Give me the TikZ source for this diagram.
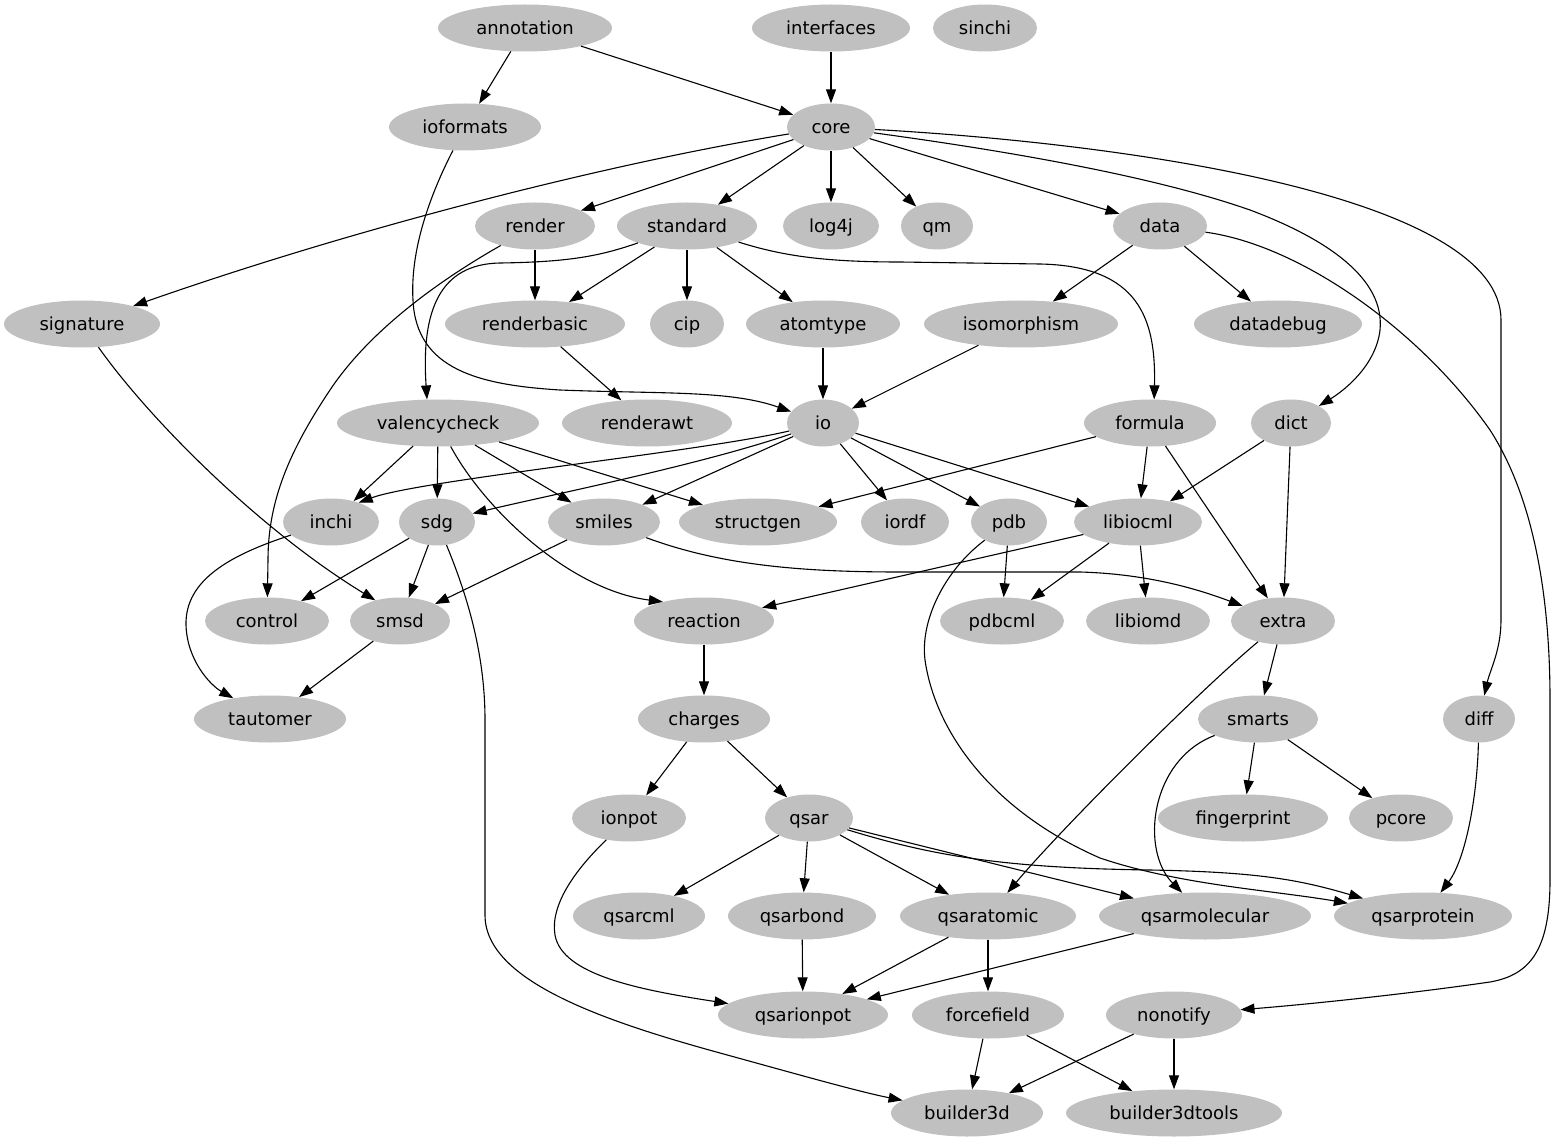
\documentclass[tikz,border=0pt]{standalone}
\usepackage{fontspec}
\setmainfont{DejaVu Sans}
\usetikzlibrary{shapes.geometric,arrows.meta}
\definecolor{gvgray}{HTML}{C0C0C0}
\begin{document}
\begin{tikzpicture}[x=1pt,y=-1pt,
  nd/.style={ellipse, fill=gvgray, inner sep=0pt, minimum height=47pt,
    text height=15pt, text depth=2pt,
    font=\fontsize{18}{20}\selectfont, text=black},
  arr/.style={-{Triangle[length=14pt,width=10pt]}, line width=1.1pt, black}]
\fill[white] (0,0) rectangle (1561,1147);
\useasboundingbox (0,0) rectangle (1561,1147);
% row 1
\node[nd, minimum width=174pt] (annotation) at (525,28) {annotation};
\node[nd, minimum width=158pt] (interfaces) at (831,28) {interfaces};
\node[nd, minimum width=104pt] (sinchi) at (985,28) {sinchi};
% row 2
\node[nd, minimum width=152pt] (ioformats) at (465,127) {ioformats};
\node[nd, minimum width=88pt] (core) at (831,127) {core};
% row 3
\node[nd, minimum width=120pt] (render) at (535,226) {render};
\node[nd, minimum width=140pt] (standard) at (687,226) {standard};
\node[nd, minimum width=96pt] (log4j) at (831,226) {log4j};
\node[nd, minimum width=72pt] (qm) at (937,226) {qm};
\node[nd, minimum width=94pt] (data) at (1160,226) {data};
% row 4
\node[nd, minimum width=156pt] (signature) at (82,324) {signature};
\node[nd, minimum width=180pt] (renderbasic) at (535,324) {renderbasic};
\node[nd, minimum width=74pt] (cip) at (687,324) {cip};
\node[nd, minimum width=154pt] (atomtype) at (823,324) {atomtype};
\node[nd, minimum width=194pt] (isomorphism) at (1021,324) {isomorphism};
\node[nd, minimum width=168pt] (datadebug) at (1278,324) {datadebug};
% row 5
\node[nd, minimum width=202pt] (valencycheck) at (438,423) {valencycheck};
\node[nd, minimum width=170pt] (renderawt) at (647,423) {renderawt};
\node[nd, minimum width=72pt] (io) at (823,423) {io};
\node[nd, minimum width=132pt] (formula) at (1150,423) {formula};
\node[nd, minimum width=80pt] (dict) at (1291,423) {dict};
% row 6
\node[nd, minimum width=96pt] (inchi) at (331,522) {inchi};
\node[nd, minimum width=76pt] (sdg) at (437,522) {sdg};
\node[nd, minimum width=112pt] (smiles) at (604,522) {smiles};
\node[nd, minimum width=158pt] (structgen) at (758,522) {structgen};
\node[nd, minimum width=88pt] (iordf) at (905,522) {iordf};
\node[nd, minimum width=76pt] (pdb) at (1009,522) {pdb};
\node[nd, minimum width=128pt] (libiocml) at (1138,522) {libiocml};
% row 7
\node[nd, minimum width=124pt] (control) at (267,621) {control};
\node[nd, minimum width=100pt] (smsd) at (400,621) {smsd};
\node[nd, minimum width=140pt] (reaction) at (704,621) {reaction};
\node[nd, minimum width=124pt] (pdbcml) at (1002,621) {pdbcml};
\node[nd, minimum width=124pt] (libiomd) at (1148,621) {libiomd};
\node[nd, minimum width=104pt] (extra) at (1283,621) {extra};
% row 8
\node[nd, minimum width=152pt] (tautomer) at (270,719) {tautomer};
\node[nd, minimum width=132pt] (charges) at (704,719) {charges};
\node[nd, minimum width=120pt] (smarts) at (1258,719) {smarts};
\node[nd, minimum width=72pt] (diff) at (1479,719) {diff};
% row 9
\node[nd, minimum width=114pt] (ionpot) at (629,818) {ionpot};
\node[nd, minimum width=88pt] (qsar) at (809,818) {qsar};
\node[nd, minimum width=170pt] (fingerprint) at (1243,818) {fingerprint};
\node[nd, minimum width=104pt] (pcore) at (1401,818) {pcore};
% row 10
\node[nd, minimum width=132pt] (qsarcml) at (639,916) {qsarcml};
\node[nd, minimum width=148pt] (qsarbond) at (802,916) {qsarbond};
\node[nd, minimum width=176pt] (qsaratomic) at (988,916) {qsaratomic};
\node[nd, minimum width=212pt] (qsarmolecular) at (1205,916) {qsarmolecular};
\node[nd, minimum width=178pt] (qsarprotein) at (1423,916) {qsarprotein};
% row 11
\node[nd, minimum width=170pt] (qsarionpot) at (803,1015) {qsarionpot};
\node[nd, minimum width=152pt] (forcefield) at (988,1015) {forcefield};
\node[nd, minimum width=136pt] (nonotify) at (1174,1015) {nonotify};
% row 12
\node[nd, minimum width=152pt] (builder3d) at (967,1113) {builder3d};
\node[nd, minimum width=216pt] (builder3dtools) at (1174,1113) {builder3dtools};

% straight edges
\draw[arr] (annotation) -- (ioformats);
\draw[arr] (annotation) -- (core);
\draw[arr] (interfaces) -- (core);
\draw[arr] (core) -- (render);
\draw[arr] (core) -- (standard);
\draw[arr] (core) -- (log4j);
\draw[arr] (core) -- (qm);
\draw[arr] (core) -- (data);
\draw[arr] (data) -- (isomorphism);
\draw[arr] (data) -- (datadebug);
\draw[arr] (render) -- (renderbasic);
\draw[arr] (standard) -- (renderbasic);
\draw[arr] (standard) -- (cip);
\draw[arr] (standard) -- (atomtype);
\draw[arr] (renderbasic) -- (renderawt);
\draw[arr] (atomtype) -- (io);
\draw[arr] (isomorphism) -- (io);
\draw[arr] (valencycheck) -- (inchi);
\draw[arr] (valencycheck) -- (sdg);
\draw[arr] (valencycheck) -- (smiles);
\draw[arr] (valencycheck) -- (structgen);
\draw[arr] (io) -- (smiles);
\draw[arr] (io) -- (iordf);
\draw[arr] (io) -- (pdb);
\draw[arr] (io) -- (libiocml);
\draw[arr] (formula) -- (structgen);
\draw[arr] (formula) -- (libiocml);
\draw[arr] (formula) -- (extra);
\draw[arr] (dict) -- (libiocml);
\draw[arr] (dict) -- (extra);
\draw[arr] (sdg) -- (control);
\draw[arr] (sdg) -- (smsd);
\draw[arr] (smiles) -- (smsd);
\draw[arr] (pdb) -- (pdbcml);
\draw[arr] (libiocml) -- (reaction);
\draw[arr] (libiocml) -- (pdbcml);
\draw[arr] (libiocml) -- (libiomd);
\draw[arr] (smsd) -- (tautomer);
\draw[arr] (reaction) -- (charges);
\draw[arr] (extra) -- (smarts);
\draw[arr] (charges) -- (ionpot);
\draw[arr] (charges) -- (qsar);
\draw[arr] (smarts) -- (fingerprint);
\draw[arr] (smarts) -- (pcore);
\draw[arr] (qsar) -- (qsarcml);
\draw[arr] (qsar) -- (qsarbond);
\draw[arr] (qsar) -- (qsaratomic);
\draw[arr] (qsar) -- (qsarmolecular);
\draw[arr] (qsarbond) -- (qsarionpot);
\draw[arr] (qsaratomic) -- (qsarionpot);
\draw[arr] (qsaratomic) -- (forcefield);
\draw[arr] (qsarmolecular) -- (qsarionpot);
\draw[arr] (forcefield) -- (builder3d);
\draw[arr] (forcefield) -- (builder3dtools);
\draw[arr] (nonotify) -- (builder3d);
\draw[arr] (nonotify) -- (builder3dtools);

% curved edges
\draw[arr] (ioformats) .. controls (430,195) and (410,250) .. (413,300)
  .. controls (416,370) and (480,385) .. (560,390)
  .. controls (660,394) and (730,390) .. (io);
\draw[arr] (core) .. controls (600,165) and (350,230) .. (signature);
\draw[arr] (core) .. controls (1000,150) and (1150,175) .. (1250,210)
  .. controls (1330,240) and (1385,280) .. (1380,330)
  .. controls (1376,365) and (1345,390) .. (dict);
\draw[arr] (core) .. controls (1150,145) and (1501,200) .. (1501,320)
  -- (1501,620) .. controls (1501,650) and (1490,670) .. (diff);
\draw[arr] (data) .. controls (1300,245) and (1420,330) .. (1490,430)
  .. controls (1535,500) and (1550,600) .. (1550,700)
  -- (1550,880) .. controls (1550,950) and (1530,975) .. (1490,982)
  .. controls (1400,995) and (1300,1005) .. (nonotify);
\draw[arr] (render) .. controls (440,280) and (370,330) .. (330,390)
  .. controls (290,450) and (268,500) .. (268,560) -- (control);
\draw[arr] (standard) .. controls (600,256) and (570,262) .. (500,263)
  .. controls (440,264) and (421,310) .. (valencycheck.115);
\draw[arr] (standard) .. controls (780,255) and (820,262) .. (900,262)
  -- (1040,264) .. controls (1140,266) and (1156,320) .. (formula.80);
\draw[arr] (signature) .. controls (150,420) and (260,530) .. (smsd.140);
\draw[arr] (valencycheck) .. controls (485,510) and (570,590) .. (reaction.155);
\draw[arr] (io) .. controls (700,452) and (420,480) .. (inchi.35);
\draw[arr] (io) .. controls (700,465) and (550,495) .. (sdg);
\draw[arr] (inchi) .. controls (230,555) and (185,580) .. (186,625)
  .. controls (187,660) and (210,685) .. (tautomer);
\draw[arr] (sdg) .. controls (465,590) and (485,650) .. (485,720)
  -- (485,915) .. controls (485,980) and (600,1020) .. (720,1053)
  .. controls (800,1075) and (860,1092) .. (builder3d);
\draw[arr] (smiles) .. controls (720,565) and (800,572) .. (900,572)
  -- (1080,572) .. controls (1150,574) and (1200,590) .. (extra);
\draw[arr] (pdb) .. controls (945,570) and (920,620) .. (925,660)
  .. controls (935,730) and (990,810) .. (1100,858)
  .. controls (1180,885) and (1270,890) .. (qsarprotein);
\draw[arr] (extra) .. controls (1200,690) and (1060,830) .. (qsaratomic);
\draw[arr] (smarts) .. controls (1150,760) and (1140,850) .. (qsarmolecular);
\draw[arr] (diff) .. controls (1477,800) and (1465,860) .. (qsarprotein);
\draw[arr] (ionpot) .. controls (575,870) and (550,905) .. (555,935)
  .. controls (562,975) and (640,990) .. (qsarionpot);
\draw[arr] (qsar) .. controls (930,855) and (1000,868) .. (1150,870)
  .. controls (1260,872) and (1300,880) .. (qsarprotein);
\end{tikzpicture}
\end{document}
